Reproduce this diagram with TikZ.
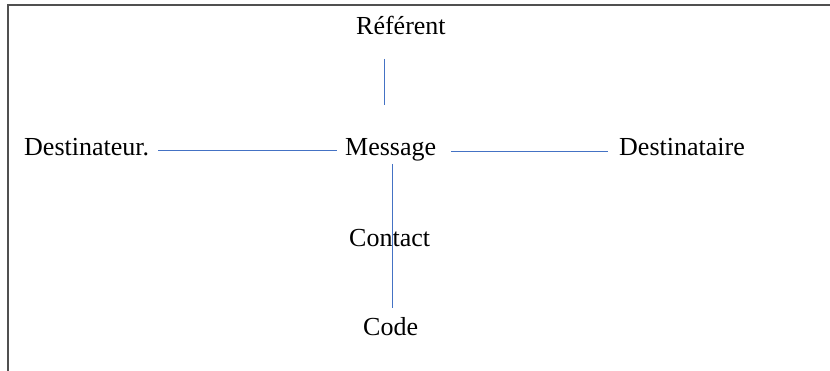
\documentclass[tikz,border=0pt]{standalone}
\usepackage{fontspec}
\setmainfont{Liberation Serif}
\definecolor{lineblue}{HTML}{4472C4}
\definecolor{framegray}{HTML}{505050}
\begin{document}
\begin{tikzpicture}[x=1pt,y=1pt,
  lbl/.style={inner sep=0pt,anchor=base west,font=\fontsize{26}{30}\selectfont},
  link/.style={draw=lineblue,line width=0.8pt},
  frameline/.style={draw=framegray,line width=1.4pt}]
\useasboundingbox (0,0) rectangle (830,-371);
% frame (top and left only)
\coordinate (fa) at (8,-371);
\coordinate (fb) at (8,-5);
\coordinate (fc) at (830,-5);
\draw[frameline] (fa) -- (fb) -- (fc);
% labels
\node[lbl] (ref) at (356,-35) {Référent};
\node[lbl] (dst) at (24,-156) {Destinateur.};
\node[lbl] (msg) at (345,-156) {Message};
\node[lbl] (dsr) at (619,-156) {Destinataire};
\node[lbl] (con) at (349,-247) {Contact};
\node[lbl] (cod) at (363,-335) {Code};
% connector ends
\coordinate (r1) at (384,-59);
\coordinate (r2) at (384,-105);
\coordinate (l1) at (158,-150);
\coordinate (l2) at (337,-150);
\coordinate (d1) at (451,-151);
\coordinate (d2) at (608,-151);
\coordinate (v1) at (392,-164);
\coordinate (v2) at (392,-308);
\draw[link] (r1) -- (r2);
\draw[link] (l1) -- (l2);
\draw[link] (d1) -- (d2);
\draw[link] (v1) -- (v2);
\end{tikzpicture}
\end{document}
